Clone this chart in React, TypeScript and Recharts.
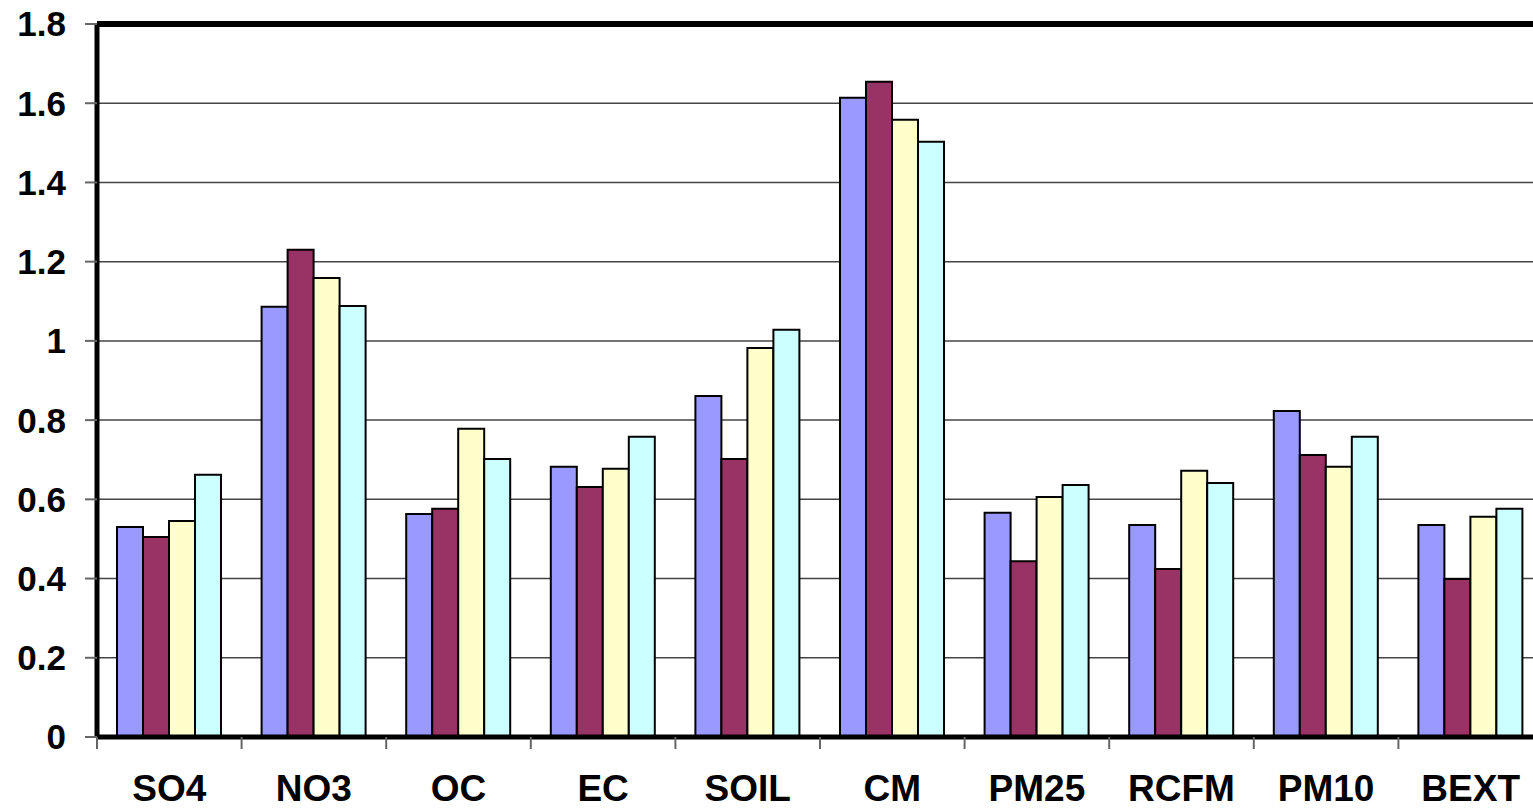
import React from "react";
import {
  BarChart,
  Bar,
  XAxis,
  YAxis,
  CartesianGrid,
  ReferenceLine,
} from "recharts";

const categories = ["SO4", "NO3", "OC", "EC", "SOIL", "CM", "PM25", "RCFM", "PM10", "BEXT"];
const series1 = [0.53, 1.086, 0.563, 0.682, 0.861, 1.614, 0.566, 0.535, 0.823, 0.535];
const series2 = [0.505, 1.23, 0.576, 0.631, 0.702, 1.654, 0.444, 0.424, 0.712, 0.399];
const series3 = [0.545, 1.159, 0.778, 0.677, 0.982, 1.558, 0.606, 0.672, 0.682, 0.556];
const series4 = [0.662, 1.088, 0.702, 0.758, 1.028, 1.503, 0.636, 0.641, 0.758, 0.576];
const yTicks = [0, 0.2, 0.4, 0.6, 0.8, 1, 1.2, 1.4, 1.6, 1.8];

const data = categories.map((name, i) => ({
  name,
  s1: series1[i],
  s2: series2[i],
  s3: series3[i],
  s4: series4[i],
}));

const CHART_W = 1543;
const CHART_H = 810;
const Y_AXIS_W = 97;
const X_AXIS_H = 73;
const FONT = "'Liberation Sans', Arial, sans-serif";
const band = (CHART_W - Y_AXIS_W) / categories.length;

function CategoryTick(props: any) {
  const { x, y, payload } = props;
  const left = x - band / 2;
  return (
    <g>
      <line x1={left} x2={left} y1={y} y2={y + 12} stroke="#666" strokeWidth={2} />
      <text
        x={x}
        y={y + 64}
        textAnchor="middle"
        fontFamily={FONT}
        fontWeight="bold"
        fontSize={37}
        fill="#000"
      >
        {payload.value}
      </text>
    </g>
  );
}

export default function App() {
  return (
    <div
      style={{
        position: "absolute",
        left: 0,
        top: 0,
        width: 1533,
        height: 810,
        overflow: "hidden",
        background: "#fff",
      }}
    >
      <BarChart
        width={CHART_W}
        height={CHART_H}
        data={data}
        margin={{ top: 24, right: 0, left: 0, bottom: 0 }}
        barCategoryGap={20}
        barGap={0}
      >
        <CartesianGrid vertical={false} stroke="#444" strokeWidth={1.5} />
        <XAxis
          dataKey="name"
          height={X_AXIS_H}
          interval={0}
          tickLine={false}
          tickSize={0}
          tickMargin={0}
          axisLine={{ stroke: "#000", strokeWidth: 5 }}
          tick={<CategoryTick />}
        />
        <YAxis
          width={Y_AXIS_W}
          domain={[0, 1.8]}
          ticks={yTicks}
          interval={0}
          tickSize={12}
          tickMargin={19}
          axisLine={{ stroke: "#000", strokeWidth: 5 }}
          tickLine={{ stroke: "#666", strokeWidth: 2 }}
          tick={{ fill: "#000", fontSize: 35, fontWeight: "bold", fontFamily: FONT }}
          tickFormatter={(v: number) => String(v)}
        />
        <Bar dataKey="s1" fill="#9999FF" stroke="#000" strokeWidth={2} isAnimationActive={false} />
        <Bar dataKey="s2" fill="#993366" stroke="#000" strokeWidth={2} isAnimationActive={false} />
        <Bar dataKey="s3" fill="#FFFFCC" stroke="#000" strokeWidth={2} isAnimationActive={false} />
        <Bar dataKey="s4" fill="#CCFFFF" stroke="#000" strokeWidth={2} isAnimationActive={false} />
        <ReferenceLine y={1.8} stroke="#000" strokeWidth={6} />
      </BarChart>
    </div>
  );
}
